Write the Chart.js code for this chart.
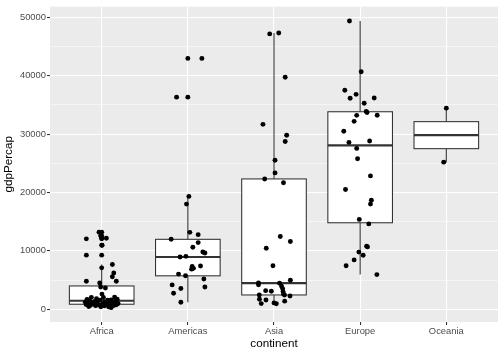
<!DOCTYPE html>
<html><head><meta charset="utf-8">
<script src="https://cdn.jsdelivr.net/npm/chart.js@4"></script>
<style>html,body{margin:0;padding:0;background:#fff}canvas{display:block}</style>
</head><body>
<canvas id="c" width="504" height="352"></canvas>
<script>
// ---- data (gdpPercap by continent) ----
const categories = ['Africa','Americas','Asia','Europe','Oceania'];
const africaGdp = [6223.367,4797.231,1441.285,12569.85,1217.033,430.0707,2042.095,706.0165,1704.064,986.1479,277.5519,3632.558,1544.75,2082.482,5581.181,12154.09,641.3695,690.8056,13206.48,752.7497,1327.609,942.6542,579.2317,1463.249,1569.331,414.5073,12057.5,1044.77,759.3499,1042.582,1803.152,10956.99,3820.175,823.6856,4811.06,619.6769,2013.977,7670.123,863.0885,1598.435,1712.472,862.5408,926.1411,9269.658,2602.395,4513.481,1107.482,882.9699,7092.923,1056.38,1271.212,469.7093];
const africaJitter = [0.14,-0.178,0.16,-0.012,-0.19,0.08,-0.12,0.10,-0.17,0.19,0.11,0.043,0.07,0.15,0.124,0.054,0.14,-0.13,-0.031,-0.03,-0.08,-0.16,0.03,-0.14,-0.02,-0.01,-0.178,0.09,0.17,-0.11,-0.06,0.005,-0.012,-0.18,0.17,-0.07,0.02,0.124,-0.09,0.11,0.18,0.06,0.01,-0.178,0.003,-0.023,0.13,0.12,0.0,-0.05,0.04,-0.15];
const americasGdp = [12779.38,3822.137,9065.801,36319.24,13171.64,7006.58,9645.061,8948.103,6025.375,6873.262,5728.354,5186.05,1201.637,3548.331,7320.88,11977.57,2749.321,9809.186,4172.838,7408.906,19328.71,18008.51,42951.65,10611.46,11415.81];
const americasJitter = [0.12,0.198,-0.023,-0.131,0.023,0.065,0.198,-0.09,-0.108,0.043,-0.027,0.186,-0.081,-0.081,0.05,-0.194,-0.166,0.174,-0.182,0.147,0.012,-0.016,0.163,0.058,0.12];
const asiaGdp = [974.5803,29796.05,1391.254,1713.779,4959.115,39724.98,2452.21,3540.652,11605.71,4471.062,25523.28,31656.07,4519.094,1593.065,23348.14,47306.99,10461.06,12451.66,3095.772,944,1091.36,22316.19,2605.948,3190.481,21654.83,47143.18,3970.095,4184.548,28718.28,7458.396,2441.577,3025.35,2280.77];
const asiaJitter = [-0.148,0.147,0.124,-0.169,0.19,0.13,-0.171,0.1,0.19,0.064,0.012,-0.128,-0.18,-0.093,0.012,0.055,-0.09,0.073,-0.031,0.027,0.0,-0.108,0.11,-0.097,0.11,-0.05,0.087,-0.18,0.13,-0.012,0.122,0.105,0.186];
const europeGdp = [5937.03,36126.49,33692.61,7446.299,10680.79,14619.22,22833.31,35278.42,33207.08,30470.02,32170.37,27538.41,18008.94,36180.79,40675.99,28569.72,9253.896,36797.93,49357.19,15389.92,20509.65,10808.48,9786.535,18678.31,25768.26,28821.06,33859.75,37506.42,8458.276,33203.26];
const europeJitter = [0.194,-0.116,0.08,-0.163,0.085,0.1,0.12,0.047,0.198,-0.19,-0.07,-0.04,0.12,0.163,0.012,-0.13,0.035,-0.047,-0.124,-0.01,-0.17,0.075,-0.015,0.13,-0.03,0.11,0.07,-0.178,-0.07,-0.04];
const oceaniaGdp = [34435.37,25185.01];
const oceaniaJitter = [0.0,-0.03];
const yTickValues = [0,10000,20000,30000,40000,50000];
const yMinorValues = [5000,15000,25000,35000,45000];

const groups = [
  [africaGdp, africaJitter],
  [americasGdp, americasJitter],
  [asiaGdp, asiaJitter],
  [europeGdp, europeJitter],
  [oceaniaGdp, oceaniaJitter]
];

// ---- box statistics (type 7 quantiles, 1.5 IQR whiskers) ----
function q7(s, p){ const h=(s.length-1)*p, lo=Math.floor(h), hi=Math.min(lo+1,s.length-1); return s[lo]+(h-lo)*(s[hi]-s[lo]); }
const stats = groups.map(([vals], i) => {
  const s = vals.slice().sort((a,b)=>a-b);
  const q1=q7(s,0.25), med=q7(s,0.5), q3=q7(s,0.75), iqr=q3-q1;
  const inside = s.filter(v => v >= q1-1.5*iqr && v <= q3+1.5*iqr);
  return {x:i+1, q1, med, q3, lo:inside[0], hi:inside[inside.length-1],
          out: s.filter(v => v < q1-1.5*iqr || v > q3+1.5*iqr)};
});

const jitterPts = [];
groups.forEach(([vals, jit], i) => vals.forEach((v, k) => jitterPts.push({x:i+1+jit[k], y:v})));
const outlierPts = [];
stats.forEach(st => st.out.forEach(v => outlierPts.push({x:st.x, y:v})));

const panelBg = {
  id:'panelBg',
  beforeDraw(chart){
    const {ctx, chartArea:a} = chart;
    ctx.save(); ctx.fillStyle='#EBEBEB'; ctx.fillRect(a.left,a.top,a.right-a.left,a.bottom-a.top); ctx.restore();
  }
};
const boxes = {
  id:'boxes',
  beforeDatasetsDraw(chart){
    const {ctx, scales:{x, y}} = chart;
    ctx.save();
    ctx.strokeStyle='#333333';
    stats.forEach(st => {
      const cx = x.getPixelForValue(st.x);
      const l = x.getPixelForValue(st.x-0.375), r = x.getPixelForValue(st.x+0.375);
      ctx.lineWidth = 1.07;
      ctx.beginPath();
      ctx.moveTo(cx, y.getPixelForValue(st.q3)); ctx.lineTo(cx, y.getPixelForValue(st.hi));
      ctx.moveTo(cx, y.getPixelForValue(st.q1)); ctx.lineTo(cx, y.getPixelForValue(st.lo));
      ctx.stroke();
      const t = y.getPixelForValue(st.q3), b = y.getPixelForValue(st.q1);
      ctx.fillStyle='#FFFFFF';
      ctx.fillRect(l, t, r-l, b-t);
      ctx.strokeRect(l, t, r-l, b-t);
      ctx.lineWidth = 2.1;
      const m = y.getPixelForValue(st.med);
      ctx.beginPath(); ctx.moveTo(l, m); ctx.lineTo(r, m); ctx.stroke();
    });
    ctx.restore();
  }
};

const tickFont = {family:'"Liberation Sans", Arial, sans-serif', size:9.4};
const titleFont = {family:'"Liberation Sans", Arial, sans-serif', size:11.7};

new Chart(document.getElementById('c'), {
  type:'scatter',
  data:{datasets:[
    {data: outlierPts, pointRadius:2.45, pointBackgroundColor:'#000', pointBorderWidth:0},
    {data: jitterPts, pointRadius:2.45, pointBackgroundColor:'#000', pointBorderWidth:0}
  ]},
  options:{
    responsive:false, animation:false, devicePixelRatio:1,
    layout:{padding:{left:0,right:6,top:4,bottom:0}},
    plugins:{legend:{display:false}, tooltip:{enabled:false}},
    scales:{
      x:{
        type:'linear', min:0.4, max:5.6,
        afterBuildTicks(s){ s.ticks = categories.map((c,i)=>({value:i+1})); },
        afterFit(s){ s.height = 30; },
        ticks:{callback:(v)=>categories[Math.round(v)-1], color:'#4D4D4D', font:tickFont, padding:1, autoSkip:false, maxRotation:0},
        grid:{color:'#FFFFFF', lineWidth:1.07, tickColor:'#333333', tickLength:3, drawTicks:true},
        border:{display:false},
        title:{display:true, text:'continent', color:'#000000', font:titleFont, padding:{top:0,bottom:1}}
      },
      y:{
        type:'linear', min:-2177, max:51811,
        afterBuildTicks(s){ s.ticks = yTickValues.concat(yMinorValues).sort((a,b)=>a-b).map(v=>({value:v})); },
        afterFit(s){ s.width = 50; },
        ticks:{callback:(v)=> yTickValues.includes(v) ? String(v) : '', color:'#4D4D4D', font:tickFont, padding:1, autoSkip:false},
        grid:{color:'#FFFFFF',
              lineWidth:(c)=> (c.tick && yTickValues.includes(c.tick.value)) ? 1.07 : 0.53,
              tickColor:(c)=> (c.tick && yTickValues.includes(c.tick.value)) ? '#333333' : 'rgba(0,0,0,0)',
              tickLength:3, drawTicks:true},
        border:{display:false},
        title:{display:true, text:'gdpPercap', color:'#000000', font:titleFont, padding:{top:2,bottom:0}}
      }
    }
  },
  plugins:[panelBg, boxes]
});
</script>
</body></html>
